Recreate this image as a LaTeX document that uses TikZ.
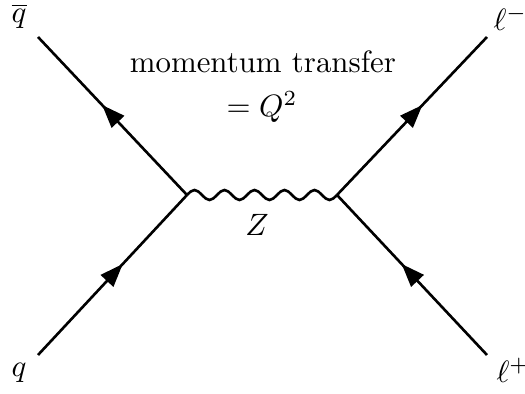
\documentclass[tikz,border=0pt]{standalone}
\usetikzlibrary{arrows.meta,decorations.markings}
\begin{document}
\begin{tikzpicture}[x=0.324pt,y=-0.324pt,
  fermion/.style={line width=0.85pt, postaction={decorate},
    decoration={markings, mark=at position 0.57 with {\arrow{Triangle[length=7.5pt,width=5.5pt]}}}},
  boson/.style={line width=0.85pt},
  lbl/.style={inner sep=0pt, anchor=base west}]
\useasboundingbox (0,0) rectangle (525,394);
\coordinate (v1) at (187,195);
\coordinate (v2) at (337,195);
\coordinate (qb) at (38,37);
\coordinate (q) at (38,355);
\coordinate (lm) at (487,37);
\coordinate (lp) at (487,355);
\draw[fermion] (v1) -- (qb);
\draw[fermion] (q) -- (v1);
\draw[fermion] (v2) -- (lm);
\draw[fermion] (lp) -- (v2);
\draw[boson] (v1) \foreach \i in {1,...,5}{ sin ++(7.5,-5) cos ++(7.5,5) sin ++(7.5,5) cos ++(7.5,-5) } -- (v2);
\node[lbl] (tqb) at (11,23) {$\overline{q}$};
\node[lbl] (tq) at (11,377) {$q$};
\node[lbl] (tlm) at (493,31) {$\ell^-$};
\node[lbl] (tlp) at (496,383) {$\ell^+$};
\node (tz) at (257,225) {$Z$};
\node[inner sep=0pt, anchor=base] (mt1) at (263,73) {momentum transfer};
\node[inner sep=0pt, anchor=base] (mt2) at (262,117) {$=Q^2$};
\end{tikzpicture}
\end{document}
